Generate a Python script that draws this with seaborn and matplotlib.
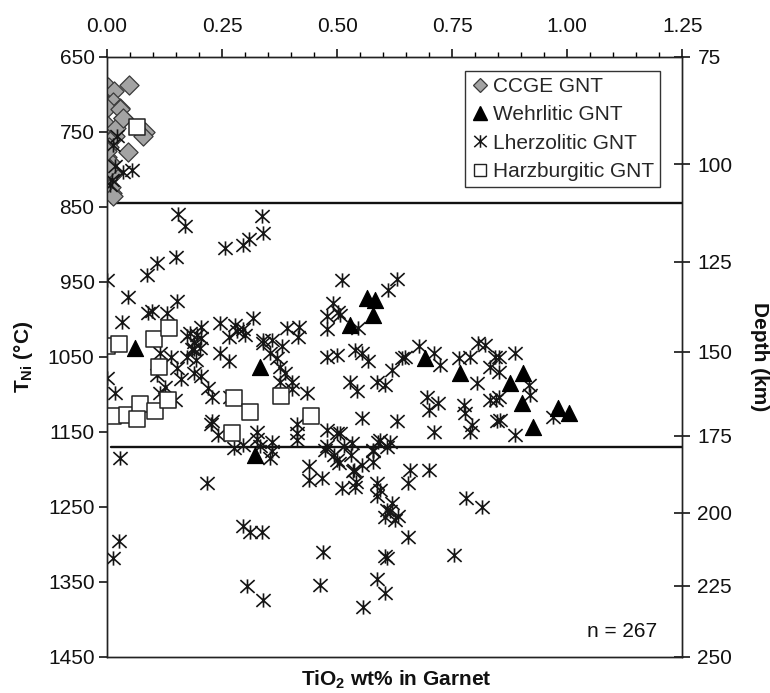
import numpy as np
import pandas as pd
import matplotlib
matplotlib.use("Agg")
import matplotlib.pyplot as plt
import seaborn as sns
from matplotlib.path import Path
from matplotlib.lines import Line2D
from matplotlib.ticker import MultipleLocator, FixedLocator, FormatStrFormatter

# ---------------- data ----------------
categories = ["CCGE GNT", "Wehrlitic GNT", "Lherzolitic GNT", "Harzburgitic GNT"]

ccge_tio2 = [0.048, 0.003, 0.015, 0.014, 0.028, 0.000, 0.035, 0.000, 0.083, 0.079,
             0.000, 0.002, 0.046, 0.000, 0.007, 0.000, 0.002, 0.000, 0.010, 0.018,
             0.013, 0.005, 0.020, 0.004, 0.008, 0.014, 0.000, 0.029, 0.034]
ccge_tni = [687, 690, 695, 710, 718, 718, 732, 741, 750, 756,
            756, 763, 777, 783, 790, 803, 810, 821, 832, 756,
            806, 770, 745, 798, 823, 836, 775, 720, 731]

wehr_tio2 = [0.061, 0.333, 0.322, 0.565, 0.583, 0.579, 0.528, 0.691, 0.766, 0.904,
             0.875, 0.901, 0.981, 1.003, 0.925]
wehr_tni = [1038, 1063, 1181, 972, 974, 994, 1007, 1052, 1072, 1072,
            1085, 1112, 1118, 1125, 1143]

lherz_tio2 = [
    0.014, 0.017, 0.035, 0.054, 0.010, 0.007, 0.021,
    0.155, 0.170, 0.336, 0.338, 0.257, 0.296, 0.309, 0.150, 0.108, 0.086, 0.000, 0.046,
    0.153, 0.090, 0.130, 0.032, 0.180, 0.195, 0.246, 0.278, 0.318, 0.300, 0.264, 0.340,
    0.358, 0.391, 0.416, 0.380, 0.246, 0.264, 0.000, 0.017, 0.115, 0.108, 0.152, 0.126,
    0.115, 0.148, 0.202, 0.173, 0.188, 0.220, 0.228, 0.267, 0.401, 0.434, 0.228, 0.325,
    0.354, 0.369, 0.387, 0.412, 0.478, 0.507, 0.478, 0.499, 0.492, 0.510, 0.478, 0.282,
    0.190, 0.205, 0.185, 0.140, 0.160, 0.098,
    0.630, 0.611, 0.507, 0.546, 0.539, 0.554, 0.568, 0.677, 0.648, 0.724, 0.764, 0.789,
    0.807, 0.822, 0.851, 0.887, 0.833, 0.851, 0.528, 0.543, 0.586, 0.604, 0.619, 0.640,
    0.804, 0.695, 0.699, 0.720, 0.775, 0.778, 0.793, 0.833, 0.851, 0.854, 0.916, 0.920,
    0.970, 0.887, 0.710, 0.554, 0.630, 0.499, 0.532, 0.593, 0.615, 0.608,
    0.710, 0.503, 0.477, 0.843,
    0.028, 0.217, 0.296, 0.311, 0.336, 0.027, 0.012, 0.470, 0.304, 0.340, 0.463, 0.557,
    0.586, 0.604, 0.604,
    0.275, 0.296, 0.354, 0.358, 0.242, 0.325, 0.412, 0.438, 0.438, 0.467, 0.474, 0.499,
    0.505, 0.510, 0.539, 0.536, 0.554, 0.579, 0.586, 0.593, 0.586, 0.608, 0.604,
    0.789, 0.847, 0.659, 0.699, 0.655, 0.780, 0.815, 0.615, 0.626, 0.655, 0.608, 0.754,
    0.620, 0.633,
    0.477, 0.493, 0.514, 0.530, 0.535, 0.578, 0.589, 0.578, 0.541, 0.359, 0.333, 0.226,
    0.413, 0.402, 0.375, 0.375, 0.205, 0.189, 0.194, 0.173, 0.205, 0.295, 0.338, 0.418,
    0.845,
]
lherz_tni = [
    767, 796, 803, 801, 814, 821, 756,
    859, 876, 862, 885, 905, 901, 893, 917, 925, 941, 948, 970,
    976, 992, 991, 1003, 1018, 1021, 1005, 1007, 998, 1021, 1023, 1027,
    1027, 1012, 1023, 1036, 1045, 1056, 1078, 1098, 1045, 1074, 1065, 1090,
    1098, 1107, 1038, 1050, 1072, 1092, 1103, 1103, 1084, 1098, 1136, 1150,
    1045, 1052, 1072, 1152, 1147, 1152, 1050, 1047, 978, 947, 996, 1016,
    1030, 1025, 1040, 1050, 1080, 989,
    946, 961, 994, 1012, 1041, 1045, 1056, 1036, 1050, 1061, 1052, 1050,
    1032, 1034, 1050, 1045, 1063, 1070, 1083, 1096, 1083, 1087, 1067, 1052,
    1085, 1103, 1121, 1112, 1114, 1125, 1141, 1107, 1103, 1134, 1087, 1101,
    1130, 1154, 1150, 1132, 1136, 1152, 1165, 1161, 1163, 1170,
    1045, 990, 1013, 1050,
    1185, 1218, 1276, 1283, 1284, 1296, 1318, 1310, 1355, 1374, 1354, 1383,
    1346, 1316, 1365,
    1172, 1167, 1185, 1163, 1154, 1160, 1161, 1196, 1214, 1212, 1174, 1187,
    1192, 1225, 1223, 1201, 1194, 1174, 1218, 1227, 1236, 1254, 1263,
    1150, 1136, 1201, 1201, 1218, 1238, 1250, 1256, 1267, 1290, 1318, 1314,
    1245, 1262,
    1169, 1181, 1169, 1181, 1202, 1175, 1164, 1190, 1217, 1175, 1169, 1140,
    1140, 1093, 1084, 1063, 1075, 1040, 1054, 1022, 1010, 1013, 1031, 1010,
    1107,
]

harz_tio2 = [0.065, 0.000, 0.027, 0.101, 0.135, 0.112, 0.012, 0.043, 0.072, 0.065,
             0.104, 0.133, 0.275, 0.311, 0.378, 0.443, 0.271]
harz_tni = [744, 1036, 1033, 1026, 1012, 1063, 1129, 1127, 1113, 1133,
            1122, 1107, 1105, 1124, 1102, 1129, 1152]

boundary_tni = [845, 1170]

x_ticks = [0.00, 0.25, 0.50, 0.75, 1.00, 1.25]
t_ticks = [650, 750, 850, 950, 1050, 1150, 1250, 1350, 1450]
depth_labels = ["75", "100", "125", "150", "175", "200", "225", "250"]
depth_tick_tni = [650, 793, 923, 1043, 1155, 1258, 1355, 1450]

# ---------------- style ----------------
sns.set_theme(style="ticks")
plt.rcParams['font.family'] = ['Liberation Sans', 'DejaVu Sans']
plt.rcParams['mathtext.fontset'] = 'custom'
plt.rcParams['mathtext.rm'] = 'Liberation Sans'
plt.rcParams['mathtext.bf'] = 'Liberation Sans:bold'

df = pd.concat([
    pd.DataFrame({"tio2": ccge_tio2, "tni": ccge_tni, "type": categories[0]}),
    pd.DataFrame({"tio2": wehr_tio2, "tni": wehr_tni, "type": categories[1]}),
    pd.DataFrame({"tio2": lherz_tio2, "tni": lherz_tni, "type": categories[2]}),
    pd.DataFrame({"tio2": harz_tio2, "tni": harz_tni, "type": categories[3]}),
], ignore_index=True)

# Excel-style star: an X crossed by a vertical bar
star = Path([(-1, -0.9), (1, 0.9), (-1, 0.9), (1, -0.9), (0, -1.0), (0, 1.0)],
            [Path.MOVETO, Path.LINETO] * 3)

fig = plt.figure(figsize=(7.7, 6.93), dpi=100)
ax = fig.add_axes([0.139, 0.052, 0.747, 0.866])

dark = "#151515"
tick_col = "black"
styles = {
    categories[0]: dict(marker="D", s=95, color="#a3a3a3", edgecolor="#3a3a3a", linewidth=0.9, zorder=3),
    categories[1]: dict(marker="^", s=135, color="black", edgecolor="black", linewidth=0.8, zorder=5),
    categories[2]: dict(marker=star, s=105, color=dark, edgecolor=dark, linewidth=1.2, zorder=4),
    categories[3]: dict(marker="s", s=130, color="white", edgecolor="#222222", linewidth=1.1, zorder=6),
}
for cat in categories:
    sub = df[df["type"] == cat]
    sns.scatterplot(data=sub, x="tio2", y="tni", ax=ax, legend=False, **styles[cat])

for t in boundary_tni:
    ax.axhline(t, xmin=0.007, xmax=1.0, color="#111111", lw=1.7, zorder=2)

ax.set_xlim(x_ticks[0], x_ticks[-1])
ax.set_ylim(t_ticks[-1], t_ticks[0])
ax.set_xlabel("")
ax.set_ylabel("")
ax.set_yticks(t_ticks)

for sp in ax.spines.values():
    sp.set_visible(True)
    sp.set_color("#222222")
    sp.set_linewidth(1.0)

ax2 = ax.twinx()
ax2.set_ylim(t_ticks[-1], t_ticks[0])
ax2.yaxis.set_major_locator(FixedLocator(depth_tick_tni))
ax2.set_yticklabels(depth_labels)
ax2.grid(False)
for sp in ax2.spines.values():
    sp.set_visible(True)
    sp.set_color("#222222")
    sp.set_linewidth(1.0)

# ticks (set after twinx so nothing resets them)
ax.xaxis.tick_top()
ax.xaxis.set_major_locator(FixedLocator(x_ticks))
ax.xaxis.set_minor_locator(MultipleLocator(0.05))
ax.xaxis.set_major_formatter(FormatStrFormatter("%.2f"))
ax.tick_params(axis="x", which="major", top=True, bottom=False, labeltop=True, labelbottom=False,
               direction="out", length=6, width=1.1, pad=9, labelsize=15, color=tick_col,
               labelcolor="#111111")
ax.tick_params(axis="x", which="minor", top=True, bottom=False, direction="out",
               length=3.5, width=1.0, color=tick_col)
ax.tick_params(axis="y", which="major", left=True, right=False, labelleft=True, labelright=False,
               direction="out", length=6, width=1.1, pad=3, labelsize=15, color=tick_col,
               labelcolor="#111111")
ax2.tick_params(axis="y", which="major", right=True, left=False, labelright=True, labelleft=False,
                direction="inout", length=12, width=1.1, pad=5, labelsize=15, color=tick_col,
                labelcolor="#111111")

handles = [
    Line2D([], [], linestyle="none", marker="D", markersize=7, markerfacecolor="#a3a3a3",
           markeredgecolor="#3a3a3a", markeredgewidth=0.9),
    Line2D([], [], linestyle="none", marker="^", markersize=10, markerfacecolor="black",
           markeredgecolor="black"),
    Line2D([], [], linestyle="none", marker=star, markersize=9, markerfacecolor=dark,
           markeredgecolor=dark, markeredgewidth=1.1),
    Line2D([], [], linestyle="none", marker="s", markersize=9, markerfacecolor="white",
           markeredgecolor="#222222", markeredgewidth=1.0),
]
leg = ax2.legend(handles, categories, loc="upper right", bbox_to_anchor=(0.962, 0.977),
                 fontsize=15, frameon=True, fancybox=False, framealpha=1, edgecolor="#333333",
                 borderpad=0.3, labelspacing=0.45, handletextpad=0.15, handlelength=0.9,
                 borderaxespad=0)
leg.get_frame().set_linewidth(1.0)

ax.text(0.957, 0.043, "n = 267", transform=ax.transAxes, ha="right", va="center",
        fontsize=15, color="#111111")

fig.text(0.515, 0.019, r"TiO$_{\mathbf{2}}$ wt% in Garnet", ha="center", va="center",
         fontsize=15, fontweight="bold", color="#111111")
fig.text(0.031, 0.485, r"T$_{\mathbf{Ni}}$ (°C)", rotation=90, ha="center", va="center",
         fontsize=15, fontweight="bold", color="#111111")
fig.text(0.986, 0.485, "Depth (km)", rotation=270, ha="center", va="center",
         fontsize=15, fontweight="bold", color="#111111")

fig.savefig("out.png", dpi=100)
